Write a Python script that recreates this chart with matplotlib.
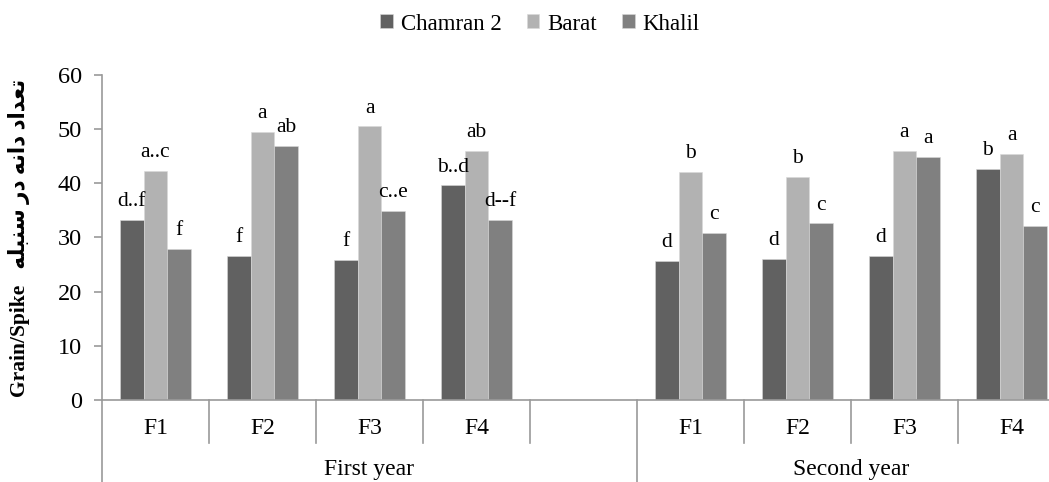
import matplotlib
matplotlib.use('Agg')
import matplotlib.pyplot as plt
from matplotlib import font_manager
import numpy as np

available = {f.name for f in font_manager.fontManager.ttflist}
serif_font = next((n for n in ['Liberation Serif', 'Tinos', 'Times New Roman', 'Nimbus Roman',
                               'DejaVu Serif'] if n in available), 'serif')
plt.rcParams['font.family'] = [serif_font, 'DejaVu Sans']

treatments = ['F1', 'F2', 'F3', 'F4', '', 'F1', 'F2', 'F3', 'F4']
years = ['First year', 'Second year']
year_span = [(-0.5, 4.5), (4.5, 8.5)]
cultivars = ['Chamran 2', 'Barat', 'Khalil']
chamran = [33.2, 26.6, 25.8, 39.6, np.nan, 25.7, 26.0, 26.6, 42.7]
barat = [42.3, 49.5, 50.5, 45.9, np.nan, 42.1, 41.2, 46.0, 45.4]
khalil = [27.9, 46.9, 34.9, 33.2, np.nan, 30.8, 32.6, 44.8, 32.1]
chamran_letters = ['d..f', 'f', 'f', 'b..d', '', 'd', 'd', 'd', 'b']
barat_letters = ['a..c', 'a', 'a', 'ab', '', 'b', 'b', 'a', 'a']
khalil_letters = ['f', 'ab', 'c..e', 'd--f', '', 'c', 'c', 'a', 'c']
yticks = [0, 10, 20, 30, 40, 50, 60]

colors = ['#616161', '#b2b2b2', '#808080']
series = [chamran, barat, khalil]
letters = [chamran_letters, barat_letters, khalil_letters]

fig = plt.figure(figsize=(10.49, 4.82), dpi=100)
W, H = 1049, 482
ax = fig.add_axes([102 / W, (H - 400) / H, 963 / W, 325 / H])

x = np.arange(len(treatments))
bw = 0.222
axis_col = '#9a9a9a'
for i, (vals, labs, col, name) in enumerate(zip(series, letters, colors, cultivars)):
    off = (i - 1) * bw
    vals = np.array(vals, dtype=float)
    mask = ~np.isnan(vals)
    ax.bar(x[mask] + off, vals[mask], width=bw, color=col, label=name,
           edgecolor='#d8d8d8', linewidth=0.4)
    for xi, v, t in zip(x, vals, labs):
        if not np.isnan(v) and t:
            ax.annotate(t, (xi + off, v), xytext=(0, 10), textcoords='offset points',
                        ha='center', va='baseline', fontsize=15.5, color='black')

ax.set_xlim(-0.5, 8.5)
ax.set_ylim(0, 60)
ax.set_yticks(yticks)
ax.set_xticks([])
for s in ['top', 'right']:
    ax.spines[s].set_visible(False)
for s in ['left', 'bottom']:
    ax.spines[s].set_color(axis_col)
    ax.spines[s].set_linewidth(1.2)
ax.tick_params(axis='y', direction='out', length=5.5, width=1.2, color=axis_col,
               labelsize=17.5, pad=9)

trans = ax.get_xaxis_transform()
short_y = -43 / 325
long_y = -82 / 325
for b in np.arange(-0.5, 8.5, 1.0):
    if b in (-0.5, 4.5):
        ax.plot([b, b], [0, long_y], transform=trans, color=axis_col, lw=1.2, clip_on=False)
    else:
        ax.plot([b, b], [0, short_y], transform=trans, color=axis_col, lw=1.2, clip_on=False)
for xi, t in zip(x, treatments):
    if t:
        ax.text(xi, -29 / 325, t, transform=trans, ha='center', va='center', fontsize=17)
for (a, b), t in zip(year_span, years):
    ax.text((a + b) / 2, -70 / 325, t, transform=trans, ha='center', va='center', fontsize=17)

persian = '\uFEEA\uFEE0\uFE92\uFEE8\uFEB3 \uFEAD\uFEA9 \uFEEA\uFEE7\uFE8D\uFEA9 \uFEA9\uFE8D\uFEAA\uFECC\uFE97'
ax.set_ylabel('Grain/Spike   ' + persian, fontsize=15.5, fontweight='bold', labelpad=20)

fig.legend(loc='center', bbox_to_anchor=(540 / W, 1 - 24 / H), ncol=3, frameon=False,
           fontsize=16.5, handlelength=0.55, handleheight=0.55, handletextpad=0.35,
           columnspacing=1.1, borderaxespad=0)

fig.savefig('out.png', dpi=100)
